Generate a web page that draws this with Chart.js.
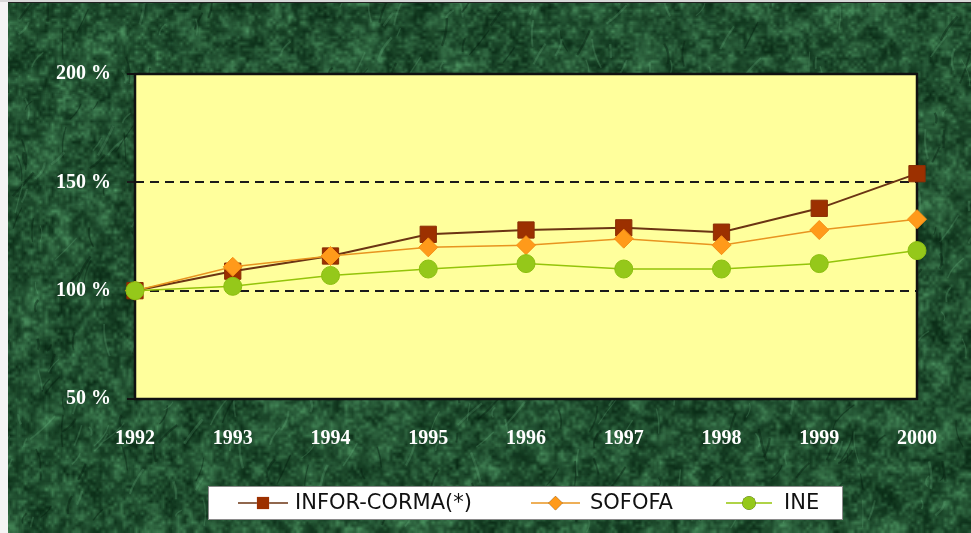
<!DOCTYPE html>
<html>
<head>
<meta charset="utf-8">
<script src="https://cdn.jsdelivr.net/npm/chart.js@4.4.1/dist/chart.umd.min.js"></script>
<style>
  html, body { margin: 0; padding: 0; background: #1d4629; }
  #wrap { width: 971px; height: 533px; }
</style>
</head>
<body>
<div id="wrap"><canvas id="chart" width="971" height="533"></canvas></div>
<script>
// data
const years = ["1992", "1993", "1994", "1995", "1996", "1997", "1998", "1999", "2000"];
const inforCorma = [100, 109, 116, 126, 128, 129, 127, 138, 154];
const sofofa = [100, 111, 116, 120, 121, 124, 121, 128, 133];
const ine = [100, 102, 107, 110, 112.5, 110, 110, 112.5, 118.5];
const yTicks = [50, 100, 150, 200];
const seriesNames = ["INFOR-CORMA(*)", "SOFOFA", "INE"];

// green marble-ish backdrop, built once into an offscreen canvas
let seed = 11;
const rnd = () => {
  seed = (seed * 16807) % 2147483647;
  return seed / 2147483647;
};
const noiseLayer = (w, h, step, alpha) => {
  const c = document.createElement("canvas");
  const cw = Math.ceil(w / step), ch = Math.ceil(h / step);
  c.width = cw;
  c.height = ch;
  const cx = c.getContext("2d");
  const img = cx.createImageData(cw, ch);
  for (let i = 0; i < cw * ch; i++) {
    const t = Math.pow(rnd(), 1.9);
    img.data[i * 4] = 8 + t * 80;
    img.data[i * 4 + 1] = 40 + t * 125;
    img.data[i * 4 + 2] = 20 + t * 90;
    img.data[i * 4 + 3] = alpha;
  }
  cx.putImageData(img, 0, 0);
  return c;
};
const buildMarble = (w, h) => {
  const c = document.createElement("canvas");
  c.width = w;
  c.height = h;
  const ctx = c.getContext("2d");
  ctx.fillStyle = "#184828";
  ctx.fillRect(0, 0, w, h);
  ctx.imageSmoothingEnabled = true;
  ctx.drawImage(noiseLayer(w, h, 18, 255), 0, 0, w, h);
  ctx.drawImage(noiseLayer(w, h, 7, 150), 0, 0, w, h);
  ctx.drawImage(noiseLayer(w, h, 3, 90), 0, 0, w, h);
  // light and dark veins
  for (let i = 0; i < 500; i++) {
    const x = rnd() * w, y = rnd() * h;
    const len = 8 + rnd() * 26;
    const ang = -1.9 + rnd() * 1.2;
    ctx.strokeStyle = rnd() > 0.45 ? "rgba(115,185,135,0.22)" : "rgba(4,30,14,0.4)";
    ctx.lineWidth = 1 + rnd() * 1.5;
    ctx.beginPath();
    ctx.moveTo(x, y);
    ctx.quadraticCurveTo(x + Math.cos(ang) * len * 0.5 + (rnd() - 0.5) * 10, y + Math.sin(ang) * len * 0.5,
      x + Math.cos(ang) * len, y + Math.sin(ang) * len);
    ctx.stroke();
  }
  ctx.fillStyle = "#f4f4f4";
  ctx.fillRect(0, 0, 8, h);
  ctx.fillStyle = "#d8d8d8";
  ctx.fillRect(0, 0, w, 2);
  ctx.fillStyle = "#222";
  ctx.fillRect(8, 2, w, 1);
  return c;
};
const marble = buildMarble(971, 533);

const backdrop = {
  id: "backdrop",
  beforeDraw(chart) {
    const { ctx, chartArea: a } = chart;
    ctx.save();
    ctx.drawImage(marble, 0, 0);
    ctx.fillStyle = "#ffff9c";
    ctx.fillRect(a.left, a.top, a.right - a.left, a.bottom - a.top);
    ctx.restore();
  },
  beforeDatasetsDraw(chart) {
    const { ctx, chartArea: a } = chart;
    ctx.save();
    ctx.strokeStyle = "#111";
    ctx.lineWidth = 2.5;
    ctx.strokeRect(a.left, a.top, a.right - a.left, a.bottom - a.top);
    // solid tick marks at the top and bottom values
    const y = chart.scales.y;
    ctx.lineWidth = 2;
    [yTicks[0], yTicks[yTicks.length - 1]].forEach((v) => {
      const py = y.getPixelForValue(v);
      ctx.beginPath();
      ctx.moveTo(a.left - 8, py);
      ctx.lineTo(a.left, py);
      ctx.stroke();
    });
    ctx.restore();
  },
};

// legend box with line + marker samples
const boxLegend = {
  id: "boxLegend",
  afterDraw(chart) {
    const { ctx } = chart;
    ctx.save();
    ctx.fillStyle = "#ffffff";
    ctx.fillRect(208, 486, 635, 34);
    ctx.strokeStyle = "#8a8a8a";
    ctx.lineWidth = 1;
    ctx.strokeRect(208.5, 486.5, 634, 33);
    const items = [
      { x0: 238, x1: 288, tx: 295 },
      { x0: 531, x1: 580, tx: 590 },
      { x0: 726, x1: 772, tx: 784 },
    ];
    ctx.font = "21px 'DejaVu Sans'";
    ctx.textBaseline = "middle";
    items.forEach((it, i) => {
      const ds = chart.data.datasets[i];
      const cy = 503;
      ctx.strokeStyle = ds.borderColor;
      ctx.lineWidth = 1.5;
      ctx.beginPath();
      ctx.moveTo(it.x0, cy);
      ctx.lineTo(it.x1, cy);
      ctx.stroke();
      Chart.helpers.drawPoint(ctx, {
        pointStyle: ds.pointStyle,
        radius: ds.pointRadius * 0.75,
        borderWidth: 0,
      }, (it.x0 + it.x1) / 2, cy);
      ctx.fillStyle = ds.pointBackgroundColor;
      ctx.fill();
      ctx.fillStyle = "#111";
      ctx.fillText(seriesNames[i], it.tx, cy + 1);
    });
    ctx.restore();
  },
};

const serifBold = { family: "'Liberation Serif'", size: 20, weight: "bold" };

new Chart(document.getElementById("chart"), {
  type: "line",
  data: {
    labels: years,
    datasets: [
      {
        label: seriesNames[0],
        data: inforCorma,
        borderColor: "#6b3413",
        borderWidth: 2,
        pointStyle: "rect",
        pointRadius: 11.5,
        pointBackgroundColor: "#9c3000",
        pointBorderColor: "#8a2e05",
        pointBorderWidth: 1,
        order: 3,
        clip: false,
      },
      {
        label: seriesNames[1],
        data: sofofa,
        borderColor: "#e89420",
        borderWidth: 1.5,
        pointStyle: "rectRot",
        pointRadius: 9.5,
        pointBackgroundColor: "#ff9a1a",
        pointBorderColor: "#f59015",
        pointBorderWidth: 1,
        order: 2,
        clip: false,
      },
      {
        label: seriesNames[2],
        data: ine,
        borderColor: "#94c40a",
        borderWidth: 1.5,
        pointStyle: "circle",
        pointRadius: 9,
        pointBackgroundColor: "#95c81a",
        pointBorderColor: "#8cbf10",
        pointBorderWidth: 1,
        order: 1,
        clip: false,
      },
    ],
  },
  options: {
    responsive: false,
    animation: false,
    layout: { padding: { left: 0, top: 74, right: 54, bottom: 0 } },
    plugins: { legend: { display: false }, tooltip: { enabled: false } },
    elements: { line: { tension: 0 } },
    scales: {
      x: {
        offset: false,
        grid: { display: false },
        border: { display: false },
        ticks: { color: "#ffffff", font: serifBold, padding: 20, maxRotation: 0 },
        afterFit: (s) => { s.height = 134; },
      },
      y: {
        min: yTicks[0],
        max: yTicks[yTicks.length - 1],
        afterBuildTicks: (s) => { s.ticks = yTicks.map((v) => ({ value: v })); },
        grid: {
          color: "#1a1a1a",
          lineWidth: 2,
          tickLength: 8,
        },
        border: { display: false, dash: [9, 6] },
        ticks: {
          color: "#ffffff",
          font: serifBold,
          padding: 16,
          callback: (v) => v + " %",
        },
        afterFit: (s) => { s.width = 135; },
      },
    },
  },
  plugins: [backdrop, boxLegend],
});
</script>
</body>
</html>
